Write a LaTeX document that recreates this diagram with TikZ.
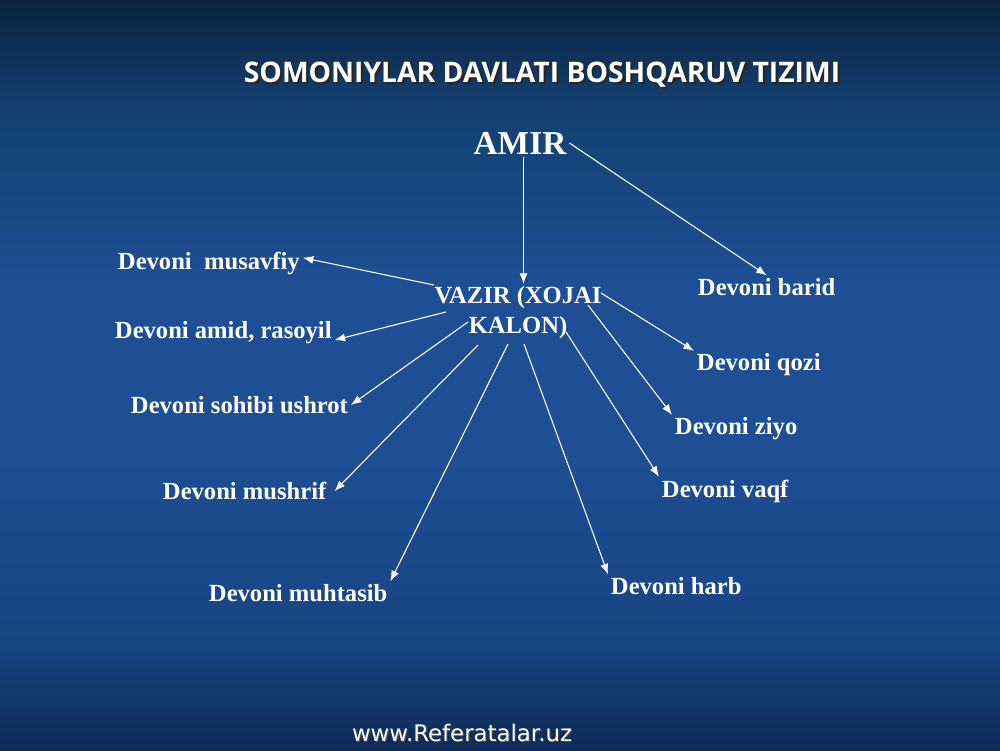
\documentclass[tikz,border=0pt]{standalone}
\usepackage{fontspec}
\setmainfont{Liberation Serif}
\newfontfamily\titlefont{Open Sans}
\newfontfamily\sitefont{DejaVu Sans}
\usetikzlibrary{positioning, arrows.meta}

\definecolor{bgtop}{HTML}{0A2340}
\definecolor{bgupper}{HTML}{14406F}
\definecolor{bgmid}{HTML}{1E4F94}
\definecolor{bglower}{HTML}{184482}
\definecolor{bgbottom}{HTML}{0D2C55}
\pgfdeclareverticalshading{slidebg}{100bp}{color(0bp)=(bgbottom); color(25bp)=(bgbottom); color(32bp)=(bglower); color(45bp)=(bgmid); color(56bp)=(bgmid); color(68bp)=(bgupper); color(75bp)=(bgtop); color(100bp)=(bgtop)}

\begin{document}
\begin{tikzpicture}[
        x=0.2mm, y=-0.2mm,
        lbl/.style={text=white, font=\bfseries\fontsize{14}{17}\selectfont, inner sep=1.5pt},
        arr/.style={draw=white, line width=0.6pt, -{Latex[length=6pt,width=4.5pt]}}
      ]
      \fill[shading=slidebg] (0,0) rectangle (1000,750);
      \useasboundingbox (0,0) rectangle (1000,750);
      \node[text=black!85, font=\titlefont\bfseries\fontsize{16.1}{20}\selectfont] (titleshadow) at (544,77) {SOMONIYLAR DAVLATI BOSHQARUV TIZIMI};
      \node[text=white, font=\titlefont\bfseries\fontsize{16.1}{20}\selectfont] (title) at (542,75) {SOMONIYLAR DAVLATI BOSHQARUV TIZIMI};
      \node[lbl, font=\bfseries\fontsize{19}{22}\selectfont] (amir) at (520,143) {AMIR};
      \node[lbl, align=center] (vazir) at (518,313) {VAZIR (XOJAI\\KALON)};
      \node[lbl, anchor=west] (musavfiy) at (115,263) {Devoni\ \ musavfiy};
      \node[lbl, anchor=west] (amid) at (112,333) {Devoni amid, rasoyil};
      \node[lbl, anchor=west] (ushrot) at (128,405) {Devoni sohibi ushrot};
      \node[lbl, anchor=west] (mushrif) at (160,491) {Devoni mushrif};
      \node[lbl, anchor=west] (muhtasib) at (206,593) {Devoni muhtasib};
      \node[lbl, anchor=west] (harb) at (608,586) {Devoni harb};
      \node[lbl, anchor=west] (vaqf) at (659,491) {Devoni vaqf};
      \node[lbl, anchor=west] (ziyo) at (672,429) {Devoni ziyo};
      \node[lbl, anchor=west] (qozi) at (694,365) {Devoni qozi};
      \node[lbl, anchor=west] (barid) at (695,287) {Devoni barid};
      \node[text=black!70, font=\sitefont\fontsize{13}{16}\selectfont] (siteshadow) at (463,734) {www.Referatalar.uz};
      \node[text=white, font=\sitefont\fontsize{13}{16}\selectfont] (site) at (462,733) {www.Referatalar.uz};
      \draw[arr] ([xshift=2pt]amir.south) -- ([xshift=2pt]amir.south |- vazir.north);
      \draw[arr] (amir.east) -- (barid.north);
      \draw[arr] (vazir.center) ++(-84,-28) -- ([yshift=3pt]musavfiy.east);
      \draw[arr] (vazir.center) ++(-72,-1) -- ([yshift=-4pt]amid.east);
      \draw[arr] (vazir.center) ++(-50,9) -- (ushrot.east);
      \draw[arr] (vazir.center) ++(-40,32) -- ([xshift=3pt]mushrif.east);
      \draw[arr] (vazir.center) ++(-10,31) -- (muhtasib.north east);
      \draw[arr] (vazir.center) ++(6,31) -- (harb.north west);
      \draw[arr] (vazir.center) ++(48,19) -- (vaqf.north west);
      \draw[arr] (vazir.center) ++(70,-8) -- (ziyo.north west);
      \draw[arr] (vazir.center) ++(83,-20) -- (qozi.north west);
    \end{tikzpicture}
\end{document}
